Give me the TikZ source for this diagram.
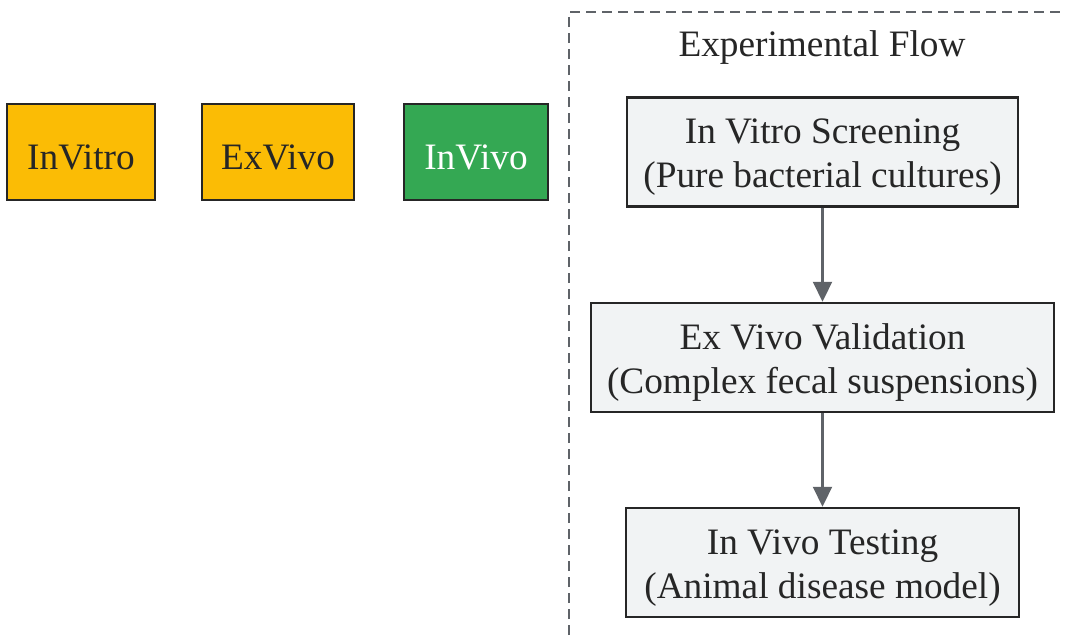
\documentclass[tikz,border=0pt]{standalone}
\usepackage{fontspec}
\setmainfont{Liberation Serif}
\usetikzlibrary{arrows.meta}

\definecolor{stageyellow}{HTML}{FBBC05}
\definecolor{stagegreen}{HTML}{34A853}
\definecolor{flowfill}{HTML}{F1F3F4}
\definecolor{edgegray}{HTML}{5F6368}
\definecolor{inkdark}{HTML}{262626}
\newcommand{\topstrut}{\rule{0pt}{35pt}}

\begin{document}
\begin{tikzpicture}[x=1pt, y=-1pt,
		every node/.style = {font=\fontsize{37.3}{44}\selectfont, text=inkdark, align=center, inner sep=0pt},
		stage/.style = {draw=inkdark, line width=2.5pt, minimum height=96pt},
		flowbox/.style = {draw=inkdark, line width=2.5pt, fill=flowfill, minimum height=109pt},
		flow/.style = {draw=edgegray, line width=2.2pt, -{Triangle[length=20pt, width=19pt]}}]
		\useasboundingbox (0,0) rectangle (1065,635);
		% stage legend
		\node[stage, fill=stageyellow, minimum width=148pt] (invitro) at (81,152) {\topstrut InVitro};
		\node[stage, fill=stageyellow, minimum width=152pt] (exvivo) at (278,152) {\topstrut ExVivo};
		\node[stage, fill=stagegreen, minimum width=144pt, text=white] (invivo) at (476,152) {\topstrut InVivo};
	%	experimental flow group
		\draw[edgegray, line width=2.2pt, dash pattern=on 10pt off 6pt] (569,635) -- (569,12) -- (1065,12);
		\node (title) at (822,48) {Experimental Flow};
		\node[flowbox, minimum width=391pt] (screen) at (822.5,152) {\topstrut In Vitro Screening\\(Pure bacterial cultures)};
		\node[flowbox, minimum width=463pt] (valid) at (822.5,357.5) {\topstrut Ex Vivo Validation\\(Complex fecal suspensions)};
		\node[flowbox, minimum width=393pt] (test) at (822.5,562.5) {\topstrut In Vivo Testing\\(Animal disease model)};
		\draw[flow] (screen) -- (valid);
		\draw[flow] (valid) -- (test);
	\end{tikzpicture}
\end{document}
